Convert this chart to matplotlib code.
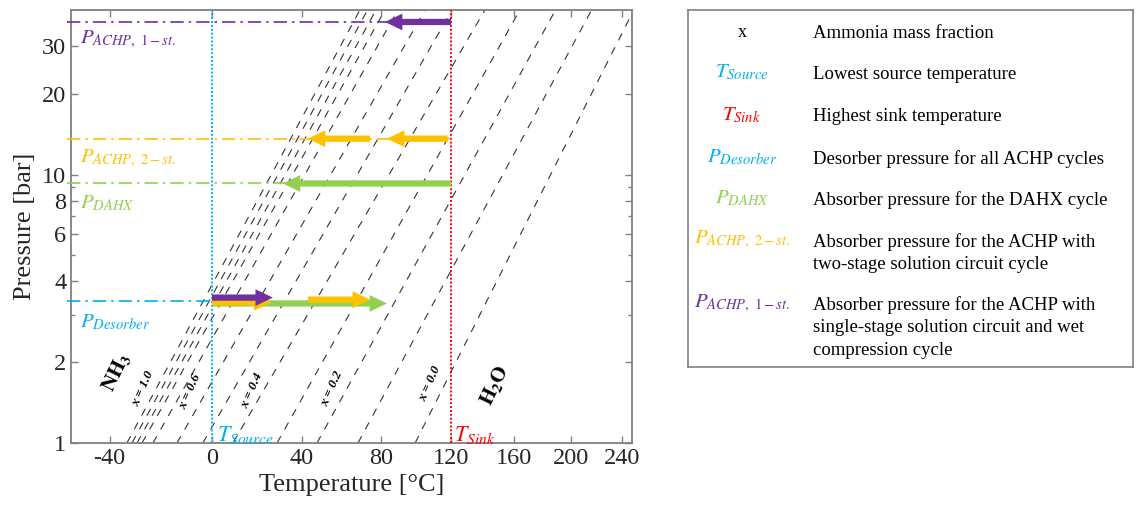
import numpy as np
import matplotlib
matplotlib.use("Agg")
import matplotlib.pyplot as plt
from matplotlib.ticker import FixedLocator, NullFormatter

plt.rcParams["font.family"] = ["Liberation Serif", "DejaVu Serif"]
plt.rcParams["mathtext.fontset"] = "stix"
plt.rcParams["axes.unicode_minus"] = False

# iso-concentration lines (ammonia mass fraction), temperature at 1 bar and at 41 bar
x_frac = [1.0, 0.95, 0.9, 0.8, 0.7, 0.6, 0.5, 0.4, 0.3, 0.2, 0.1, 0.0]
t_low = [-33.6, -31.7, -29.8, -27.9, -23.7, -14.3, -3.8, 8.9, 28.5, 47.4, 68.0, 99.0]
t_high = [69, 73, 77.5, 82.3, 89.4, 104.7, 120.6, 141, 164, 189, 216, 250]
p_low, p_high = 1.0, 41.0
labelled_x = {1.0: (-27.6, 1.60), 0.6: (-9.1, 1.55), 0.4: (17.2, 1.57),
              0.2: (54.8, 1.60), 0.0: (107.6, 1.67)}

# temperatures and pressures
t_source, t_sink = 0, 120
p_achp1, p_achp2, p_dahx, p_des = 37.0, 13.6, 9.26, 3.37

# arrows: (T start, T end, p, colour key)
arrows_top = [
    (120, 82.3, p_achp1, "purple"),
    (118, 83.4, p_achp2, "orange"),
    (74.3, 43.0, p_achp2, "orange"),
    (120, 31.2, p_dahx, "green"),
]
arrows_bottom = [
    (0, 83.4, 3.31, "green"),
    (0, 26.0, 3.34, "orange"),
    (43.0, 74.3, 3.42, "orange"),
    (0, 26.6, 3.48, "purple"),
]

col = {"purple": "#7030A0", "orange": "#FFC000", "green": "#92D050",
       "blue": "#00B0F0", "red": "#FF0000"}

xticks = [-40, 0, 40, 80, 120, 160, 200, 240]
yticks = [1, 2, 4, 6, 8, 10, 20, 30]
yminor = [3, 5, 7, 9]


def fwd(t):
    return -1.0 / (np.asarray(t, dtype=float) + 600.0)


def inv(u):
    with np.errstate(divide="ignore"):
        return -1.0 / np.asarray(u, dtype=float) - 600.0


fig = plt.figure(figsize=(11.37, 5.16), dpi=100)
ax = fig.add_axes([71 / 1137, 73 / 516, 561 / 1137, 433 / 516])
ax.set_xscale("function", functions=(fwd, inv))
ax.set_yscale("log")
ax.set_xlim(-53.7, 248.5)
ax.set_ylim(1, 41)

for xf, t0, t1 in zip(x_frac, t_low, t_high):
    ax.plot([t0, t1], [p_low, p_high], color="#333333", lw=0.8,
            linestyle=(0, (7, 7)), zorder=1)
for xf, (tx, py) in labelled_x.items():
    ax.text(tx, py, f"x = {xf:.1f}", rotation=66, fontsize=9.5, fontweight="bold",
            fontstyle="italic", ha="center", va="center", zorder=2)

ax.text(-37.3, 1.84, r"$\mathbf{NH_3}$", rotation=64, fontsize=15,
        ha="center", va="center")
ax.text(147.5, 1.64, r"$\mathbf{H_2O}$", rotation=64, fontsize=15,
        ha="center", va="center")

# horizontal pressure levels
dashdot = (0, (8, 3, 1.5, 3))
ax.plot([-55, t_sink], [p_achp1, p_achp1], color=col["purple"], lw=1.2,
        linestyle=dashdot, clip_on=False, zorder=3)
ax.plot([-55, t_sink], [p_achp2, p_achp2], color=col["orange"], lw=1.2,
        linestyle=dashdot, clip_on=False, zorder=3)
ax.plot([-55, t_sink], [p_dahx, p_dahx], color=col["green"], lw=1.2,
        linestyle=dashdot, clip_on=False, zorder=3)
ax.plot([-55, t_source], [p_des, p_des], color=col["blue"], lw=1.2,
        linestyle=dashdot, clip_on=False, zorder=3)

# vertical temperature limits
ax.plot([t_source, t_source], [1, 41], color=col["blue"], lw=1.4,
        linestyle=(0, (1, 1)), zorder=3)
ax.plot([t_sink, t_sink], [1, 41], color=col["red"], lw=1.4,
        linestyle=(0, (1, 1)), zorder=3)

style = "simple,head_length=1.25,head_width=1.2,tail_width=0.45"
for t0, t1, p, c in arrows_top + arrows_bottom:
    ax.annotate("", xy=(t1, p), xytext=(t0, p),
                arrowprops=dict(arrowstyle=style, fc=col[c], ec="none",
                                mutation_scale=10, shrinkA=0, shrinkB=0),
                zorder=4)

ax.text(0.016, 0.931, r"$P_{ACHP,\ 1-st.}$", transform=ax.transAxes,
        color=col["purple"], fontsize=15, va="center")
ax.text(0.016, 0.658, r"$P_{ACHP,\ 2-st.}$", transform=ax.transAxes,
        color=col["orange"], fontsize=15, va="center")
ax.text(0.016, 0.554, r"$P_{DAHX}$", transform=ax.transAxes,
        color=col["green"], fontsize=15, va="center")
ax.text(0.016, 0.279, r"$P_{Desorber}$", transform=ax.transAxes,
        color=col["blue"], fontsize=15, va="center")
ax.text(2, 1.07, r"$T_{Source}$", color=col["blue"], fontsize=16, va="center")
ax.text(122, 1.07, r"$T_{Sink}$", color=col["red"], fontsize=16, va="center")

ax.xaxis.set_major_locator(FixedLocator(xticks))
ax.set_xticklabels([str(t) for t in xticks])
ax.xaxis.set_minor_locator(FixedLocator([]))
ax.yaxis.set_major_locator(FixedLocator(yticks))
ax.set_yticklabels([str(p) for p in yticks])
ax.yaxis.set_minor_locator(FixedLocator(yminor))
ax.yaxis.set_minor_formatter(NullFormatter())
ax.tick_params(which="both", direction="in", top=True, right=True,
               color="#808080", labelsize=17.5, labelcolor="#262626")
ax.tick_params(which="major", length=5, width=1)
ax.tick_params(which="minor", length=3, width=1)
for sp in ax.spines.values():
    sp.set_color("#808080")
    sp.set_linewidth(1.3)
ax.set_xlabel("Temperature [°C]", fontsize=19, color="#262626", labelpad=4)
ax.set_ylabel("Pressure [bar]", fontsize=19, color="#262626", labelpad=4)

# legend panel
lg = fig.add_axes([688 / 1137, 149 / 516, 445 / 1137, 357 / 516])
lg.set_xlim(0, 1)
lg.set_ylim(0, 1)
lg.set_xticks([])
lg.set_yticks([])
for sp in lg.spines.values():
    sp.set_color("#808080")
    sp.set_linewidth(1.2)

leg_symbols = ["x", r"$T_{Source}$", r"$T_{Sink}$", r"$P_{Desorber}$",
               r"$P_{DAHX}$", r"$P_{ACHP,\ 2-st.}$", r"$P_{ACHP,\ 1-st.}$"]
leg_colors = ["black", col["blue"], col["red"], col["blue"], col["green"],
              col["orange"], col["purple"]]
leg_text = ["Ammonia mass fraction",
            "Lowest source temperature",
            "Highest sink temperature",
            "Desorber pressure for all ACHP cycles",
            "Absorber pressure for the DAHX cycle",
            "Absorber pressure for the ACHP with\ntwo-stage solution circuit cycle",
            "Absorber pressure for the ACHP with\nsingle-stage solution circuit and wet\ncompression cycle"]
leg_y = [0.938, 0.824, 0.706, 0.588, 0.473, 0.356, 0.179]

for s, c, t, y in zip(leg_symbols, leg_colors, leg_text, leg_y):
    lg.text(0.121, y, s, color=c, fontsize=13 if s == "x" else 15,
            ha="center", va="center")
    lg.text(0.281, y + 0.019, t, fontsize=13.5, ha="left", va="top",
            linespacing=1.4)

fig.savefig("out.png", dpi=100)
